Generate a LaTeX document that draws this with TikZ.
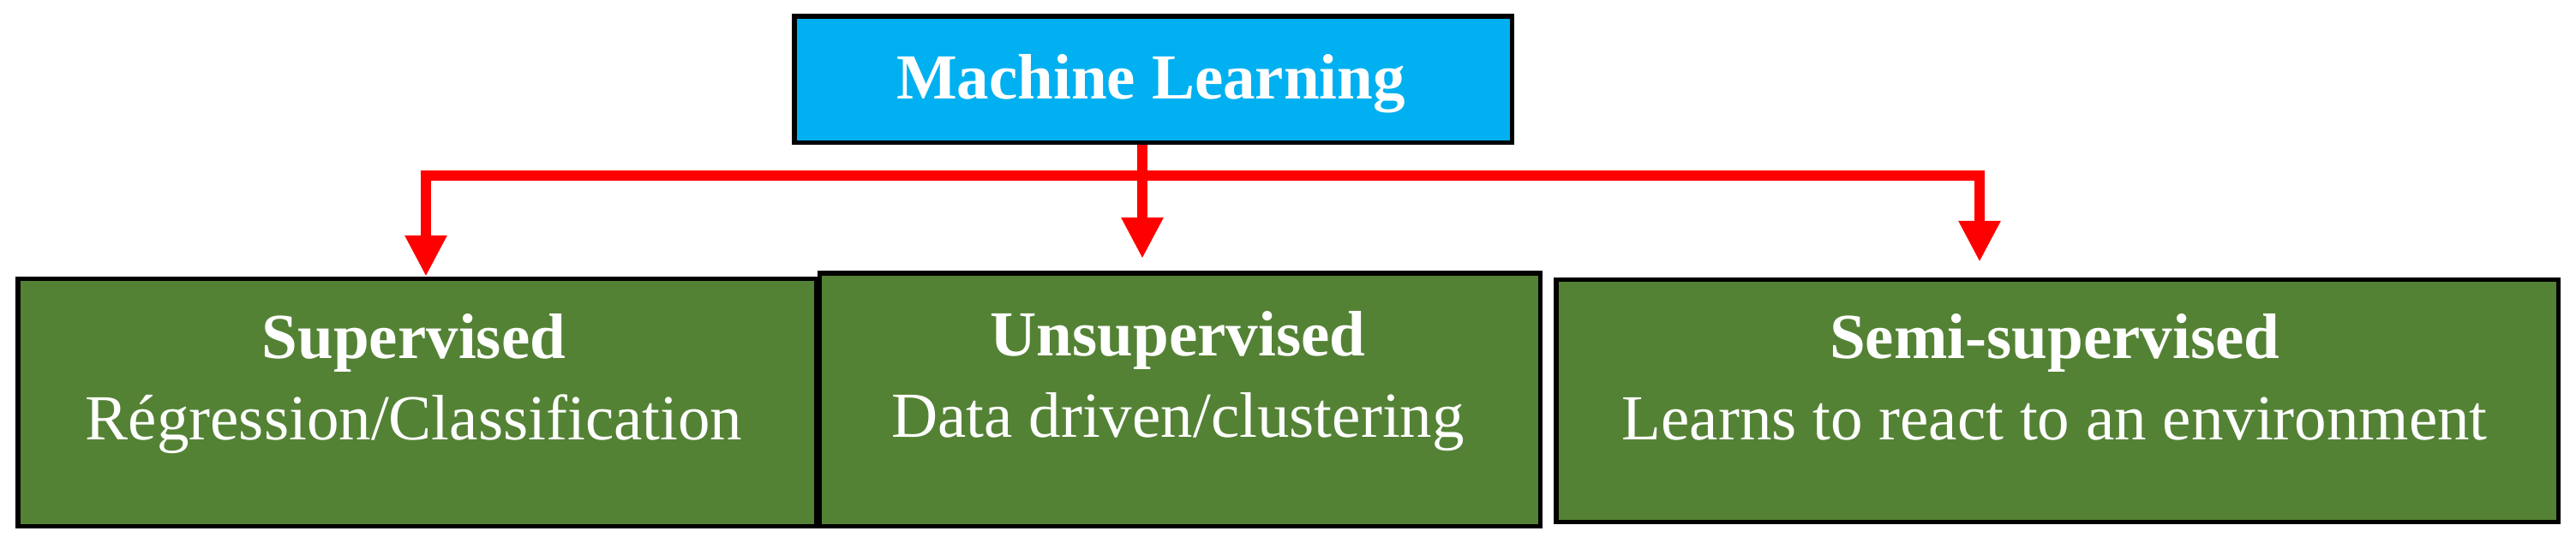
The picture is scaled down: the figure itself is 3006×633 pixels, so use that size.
\documentclass[tikz,border=0pt]{standalone}
\usepackage{fontspec}
\setmainfont{Liberation Serif}
\usetikzlibrary{arrows.meta}
\definecolor{mlblue}{HTML}{00B0F0}
\definecolor{mlgreen}{HTML}{548235}
\begin{document}
\begin{tikzpicture}[x=0.25pt,y=-0.25pt,
  >={Triangle[length=12pt,width=11.5pt]},
  box/.style={draw=black,line width=1.4pt,inner sep=0pt,rectangle},
  mlbox/.style={box,fill=mlblue},
  catbox/.style={box,fill=mlgreen},
  lbl/.style={text=white,align=center,font=\fontsize{18.75}{23.75}\selectfont,inner sep=0pt,anchor=base},
  link/.style={draw=red,line width=3.1pt}]
\useasboundingbox (0,0) rectangle (3006,633);
% boxes
\node[mlbox,minimum width=209.4pt,minimum height=36.9pt] (ml) at (1345.5,92.5) {};
\node[catbox,minimum width=232.9pt,minimum height=72.2pt] (sup) at (486.5,470) {};
\node[catbox,minimum width=210.2pt,minimum height=73.9pt] (unsup) at (1377,466.5) {};
\node[catbox,minimum width=292.4pt,minimum height=70.7pt] (semi) at (2400.5,468) {};
% texts
\node[lbl] (mltxt) at (1343,115) {\textbf{Machine Learning}};
\node[lbl] (suptxt) at (483,513) {\textbf{Supervised}\\Régression/Classification};
\node[lbl] (unsuptxt) at (1374.5,510) {\textbf{Unsupervised}\\Data driven/clustering};
\node[lbl] (semitxt) at (2397.7,513) {\textbf{Semi-supervised}\\Learns to react to an environment};
% connectors
\coordinate (xL) at (497,205);
\coordinate (xM) at (1333,205);
\coordinate (xR) at (2310,205);
\draw[link,<->,shorten >=4.5pt] (sup.north -| xL) |- (xR) -- (semi.north -| xR);
\draw[link,->,shorten >=3.5pt] (ml.south -| xM) -- (unsup.north -| xM);
\end{tikzpicture}
\end{document}
